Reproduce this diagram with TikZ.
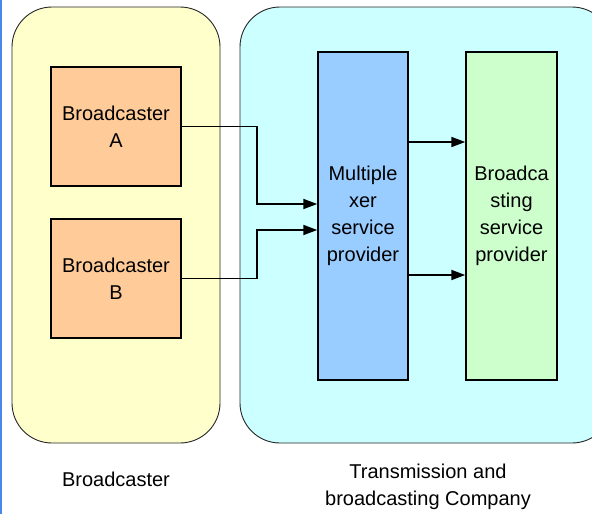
\documentclass[tikz,border=0pt]{standalone}
\usepackage{fontspec}
\setmainfont{Liberation Sans}
\usetikzlibrary{arrows.meta,positioning}

\definecolor{paleyellow}{HTML}{FFFFCC}
\definecolor{palecyan}{HTML}{CCFFFF}
\definecolor{boxorange}{HTML}{FFCC99}
\definecolor{boxblue}{HTML}{99CCFF}
\definecolor{boxgreen}{HTML}{CCFFCC}
\definecolor{edgeblue}{HTML}{4A86E8}

\begin{document}
\begin{tikzpicture}[x=1pt,y=-1pt,
    panel/.style={draw=black!85,line width=0.9pt,rounded corners=40pt},
    unit/.style={draw,line width=1.5pt,align=center,inner sep=0pt,
        font=\fontsize{20}{27}\selectfont},
    conn/.style={line width=1.8pt,-{Triangle[length=14pt,width=10pt]}},
    caption/.style={align=center,font=\fontsize{20}{27}\selectfont}]

% Cornice della figura
\useasboundingbox (0,0) rectangle (592,514);
\clip (0,0) rectangle (592,514);
\fill[white] (0,0) rectangle (592,514);
\fill[edgeblue] (0,0) rectangle (2,514);

% Pannelli
\draw[panel,fill=paleyellow] (12,7) rectangle (220,443);
\draw[panel,fill=palecyan] (240,7) rectangle (612,443);

% Emittenti
\node[unit,fill=boxorange,minimum width=130pt,minimum height=119pt] (bcA) at (116,126.5) {Broadcaster\\A};
\node[unit,fill=boxorange,minimum width=130pt,minimum height=119pt] (bcB) at (116,278.5) {Broadcaster\\B};

% Fornitori di servizio
\node[unit,fill=boxblue,minimum width=90pt,minimum height=328pt] (mux) at (363,216) {Multiple\\xer\\service\\provider};
\node[unit,fill=boxgreen,minimum width=91pt,minimum height=328pt] (bcs) at (511.5,216) {Broadca\\sting\\service\\provider};

% Collegamenti
\draw[conn] (bcA.east) -- ++(75,0) |- ([yshift=12pt]mux.west);
\draw[conn] (bcB.east) -- ++(75,0) |- ([yshift=-14pt]mux.west);
\draw[conn] ([yshift=74pt]mux.east) -- ([yshift=74pt]bcs.west);
\draw[conn] ([yshift=-59pt]mux.east) -- ([yshift=-59pt]bcs.west);

% Didascalie
\node[caption] (capL) at (116,479) {Broadcaster};
\node[caption] (capR) at (428,487) {Transmission and\\broadcasting Company};

\end{tikzpicture}
\end{document}
